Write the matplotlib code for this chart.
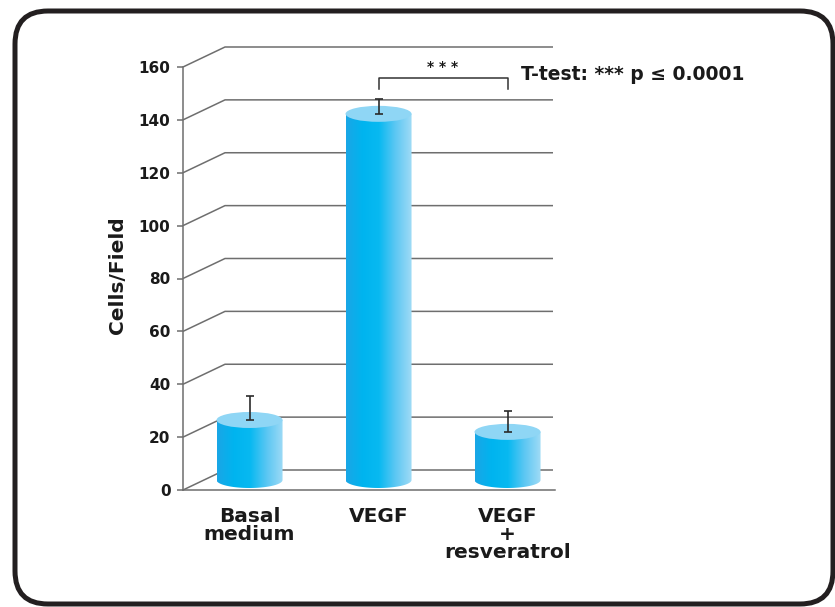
import numpy as np
import matplotlib
matplotlib.use("Agg")
import matplotlib.pyplot as plt
from matplotlib.patches import Ellipse, PathPatch, FancyBboxPatch
from matplotlib.path import Path
from matplotlib.colors import LinearSegmentedColormap

# ---- data ----
categories = ["Basal\nmedium", "VEGF", "VEGF\n+\nresveratrol"]
cells_per_field = [22.7, 138.5, 18.2]
error_upper = [9.1, 5.6, 7.9]
y_ticks = [0, 20, 40, 60, 80, 100, 120, 140, 160]
stat_label = "T-test: *** p \u2264 0.0001"
stars = "* * *"

plt.rcParams["font.family"] = ["DejaVu Sans"]

W, H = 835, 607
fig = plt.figure(figsize=(W / 100, H / 100), dpi=100)

# rounded frame around the whole figure
frame = FancyBboxPatch((0.15, 0.03), 8.18, 5.93,
                       boxstyle="round,pad=0,rounding_size=0.33",
                       transform=fig.dpi_scale_trans, fill=False,
                       edgecolor="#231f20", linewidth=3.6, zorder=0)
fig.patches.append(frame)

# front plane of the pseudo-3D plot
ax = fig.add_axes([183 / W, (H - 490) / H, 370 / W, 423 / H])
x_left = -0.353
x_right = x_left + 370 / 129
ax.set_xlim(x_left, x_right)
ax.set_ylim(0, 160)

px_x = 370 / (x_right - x_left)   # pixels per category unit
px_y = 423 / 160                  # pixels per value unit
DX = 42 / px_x                    # depth offset (x)
DY = 20 / px_y                    # depth offset (y)

grid_col = "#6e6e6e"
for v in y_ticks:
    ax.plot([x_left, x_left + DX, x_right], [v, v + DY, v + DY],
            color=grid_col, lw=1.1, zorder=1, clip_on=False,
            solid_capstyle="butt")
# floor front edge
ax.plot([x_left, x_left + 372 / px_x], [0, 0], color=grid_col, lw=1.1,
        zorder=1, clip_on=False)

# cylinders
bar_w = 66 / px_x
ell_h = 16 / px_y
cmap = LinearSegmentedColormap.from_list(
    "cyl", ["#1aa6e6", "#00b4ef", "#08b9f1", "#5cc7f3", "#a0dbf6"])
grad = cmap(np.linspace(0, 1, 256))[None, :, :]
theta = np.linspace(np.pi, 2 * np.pi, 60)

for i, (val, err) in enumerate(zip(cells_per_field, error_upper)):
    xc = i + DX / 2
    y0 = DY / 2
    y1 = val + DY / 2
    xl, xr = xc - bar_w / 2, xc + bar_w / 2
    arc_x = xc + (bar_w / 2) * np.cos(theta)
    arc_y = y0 + (ell_h / 2) * np.sin(theta)
    verts = np.vstack([[xl, y1], np.column_stack([arc_x, arc_y]), [xr, y1], [xl, y1]])
    body = PathPatch(Path(verts, closed=True), facecolor="none",
                     edgecolor="none", transform=ax.transData)
    ax.add_patch(body)
    img = ax.imshow(grad, extent=[xl, xr, y0 - ell_h / 2, y1], aspect="auto",
                    interpolation="bilinear", zorder=3, origin="lower")
    img.set_clip_path(body)
    ax.add_patch(Ellipse((xc, y1), bar_w, ell_h, facecolor="#8fd6f5",
                         edgecolor="none", zorder=4))
    ax.errorbar([xc], [y1], yerr=[[0], [err]], fmt="none", ecolor="#2b2b2b",
                elinewidth=1.2, capsize=2.7, capthick=1.2, zorder=5)
    ax.text(xc, -6.4, categories[i], ha="center", va="top",
            fontsize=14.5, fontweight="bold", linespacing=0.95,
            color="#1a1a1a")

ax.set_xlim(x_left, x_right)
ax.set_ylim(0, 160)

# significance bracket between VEGF and VEGF + resveratrol
b_x0 = 1 + DX / 2
b_x1 = 2 + DX / 2
b_top = (490 - 78) / px_y
b_bot = (490 - 89) / px_y
ax.plot([b_x0, b_x0, b_x1, b_x1], [b_bot, b_top, b_top, b_bot],
        color="#333333", lw=1.1, zorder=5, clip_on=False)
ax.text((b_x0 + b_x1) / 2, b_top + 1.5, stars, ha="center", va="bottom",
        fontsize=10, fontweight="bold", color="#1a1a1a")
ax.text(b_x1 + 13 / px_x, (490 - 75) / px_y, stat_label, ha="left",
        va="center", fontsize=13.5, fontweight="bold", color="#1a1a1a")

# axes styling
for s in ["top", "right", "bottom"]:
    ax.spines[s].set_visible(False)
ax.spines["left"].set_color(grid_col)
ax.spines["left"].set_linewidth(1.1)
ax.set_xticks([])
ax.set_yticks(y_ticks)
ax.tick_params(axis="y", direction="out", length=4, width=1.1,
               color=grid_col, pad=5, labelsize=11)
for lab in ax.get_yticklabels():
    lab.set_fontweight("bold")
    lab.set_color("#1a1a1a")
ax.patch.set_visible(False)

fig.text(117 / W, (H - 275) / H, "Cells/Field", rotation=90, ha="center",
         va="center", fontsize=14.5, fontweight="bold", color="#1a1a1a")

fig.savefig("out.png", dpi=100, facecolor="white")
